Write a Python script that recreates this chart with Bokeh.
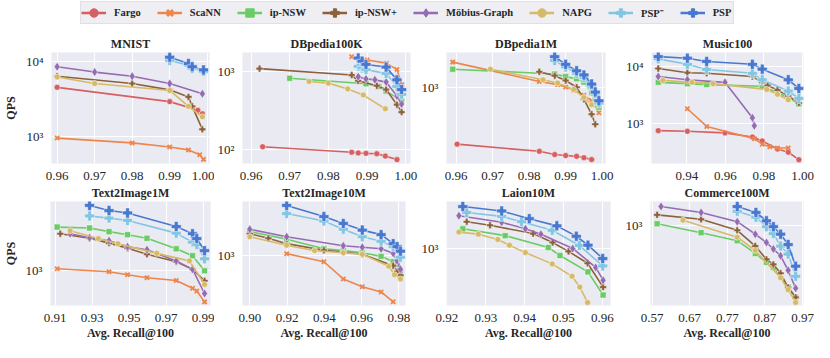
from bokeh.plotting import figure
from bokeh.layouts import column, row
from bokeh.models import FixedTicker, Range1d, Legend, LegendItem, PrintfTickFormatter
from bokeh.embed import file_html
from bokeh.resources import INLINE

# ---------------- data ----------------
METHODS = ["Fargo", "ScaNN", "ip-NSW", "ip-NSW+", "Möbius-Graph", "NAPG", "PSP⁻", "PSP"]
COLORS = ["#d65f5f", "#ee854a", "#6acc64", "#8c613c", "#956cb4", "#d5bb67", "#82c6e2", "#4878d0"]
MARKERS = ["circle", "x", "square", "plus", "diamond", "circle", "plus", "plus"]

TITLES = ["MNIST", "DBpedia100K", "DBpedia1M", "Music100",
          "Text2Image1M", "Text2Image10M", "Laion10M", "Commerce100M"]

X_TICKS = [
    [0.96, 0.97, 0.98, 0.99, 1.00],
    [0.96, 0.97, 0.98, 0.99, 1.00],
    [0.96, 0.97, 0.98, 0.99, 1.00],
    [0.92, 0.94, 0.96, 0.98, 1.00],
    [0.91, 0.93, 0.95, 0.97, 0.99],
    [0.90, 0.92, 0.94, 0.96, 0.98],
    [0.92, 0.93, 0.94, 0.95, 0.96],
    [0.57, 0.67, 0.77, 0.87, 0.97],
]
Y_TICKS = [[1000, 10000], [100, 1000], [1000], [1000, 10000], [1000], [1000], [1000], [1000]]
Y_TICK_LABELS = {100: "10²", 1000: "10³", 10000: "10⁴"}

MNIST = {
    "Fargo": ([0.96, 0.99, 0.9975, 0.9987], [4570, 2940, 2250, 2020]),
    "ScaNN": ([0.96, 0.98, 0.99, 0.995, 0.998, 0.999], [953, 822, 724, 662, 571, 494]),
    "ip-NSW+": ([0.96, 0.98, 0.99, 0.995, 0.996, 0.9987], [6440, 5140, 4230, 3400, 2540, 1250]),
    "Möbius-Graph": ([0.96, 0.97, 0.98, 0.99, 0.9987], [8630, 7320, 6440, 5140, 3750]),
    "NAPG": ([0.96, 0.97, 0.99, 0.995, 0.9987], [6300, 5140, 4150, 2540, 1840]),
    "PSP⁻": ([0.99, 0.995, 0.996, 0.999], [10500, 9050, 8200, 7450]),
    "PSP": ([0.99, 0.995, 0.996, 0.999], [11580, 9520, 8630, 7830]),
}
DBPEDIA100K = {
    "Fargo": ([0.963, 0.986, 0.9877, 0.9897, 0.9925, 0.9947, 0.9977], [107, 91, 89, 88, 87, 81, 73]),
    "ScaNN": ([0.986, 0.99, 0.995, 0.9977, 0.999], [1570, 1426, 1296, 1070, 680]),
    "ip-NSW": ([0.97, 0.9897, 0.993, 0.9949, 0.9989], [826, 701, 650, 562, 422]),
    "ip-NSW+": ([0.9622, 0.986, 0.9877, 0.9925, 0.9949, 0.9977, 0.9989], [1101, 908, 765, 662, 590, 376, 301]),
    "Möbius-Graph": ([0.9877, 0.9897, 0.992, 0.9949, 0.9977, 0.9989], [866, 810, 787, 736, 487, 383]),
    "NAPG": ([0.975, 0.98, 0.985, 0.989, 0.9947], [750, 714, 601, 501, 332]),
    "PSP⁻": ([0.9877, 0.9887, 0.9897, 0.9949, 0.9977, 0.9989], [1177, 1122, 1069, 953, 649, 511]),
    "PSP": ([0.9877, 0.9887, 0.9897, 0.9949, 0.9977, 0.9989], [1510, 1373, 1247, 1155, 787, 590]),
}
DBPEDIA1M = {
    "Fargo": ([0.9603, 0.9828, 0.987, 0.99, 0.993, 0.995, 0.9971], [187, 151, 137, 133, 130, 125, 118]),
    "ScaNN": ([0.9591, 0.9828, 0.9878, 0.99, 0.9922, 0.995, 0.9971, 0.9991], [2154, 1211, 1101, 1029, 935, 802, 681, 478]),
    "ip-NSW": ([0.9591, 0.987, 0.99, 0.993, 0.995, 0.9971, 0.9981, 0.9991], [1745, 1511, 1399, 1309, 1189, 866, 714, 562]),
    "ip-NSW+": ([0.9828, 0.987, 0.99, 0.993, 0.995, 0.9971, 0.9981], [1616, 1439, 1247, 1019, 714, 455, 338]),
    "NAPG": ([0.9694, 0.9838, 0.9878, 0.9922, 0.995, 0.9971], [1745, 1271, 1155, 953, 750, 607]),
    "PSP⁻": ([0.987, 0.99, 0.993, 0.995, 0.9971, 0.9981, 0.9991], [2260, 1866, 1540, 1359, 1049, 826, 637]),
    "PSP": ([0.987, 0.99, 0.993, 0.995, 0.9971, 0.9981, 0.9991], [2535, 2015, 1663, 1468, 1122, 883, 681]),
}
MUSIC100 = {
    "Fargo": ([0.9252, 0.9403, 0.9598, 0.974, 0.9791, 0.987, 0.9926, 0.9981], [739, 719, 674, 568, 485, 349, 306, 226]),
    "ScaNN": ([0.9403, 0.9503, 0.9751, 0.9791, 0.983, 0.987, 0.9926], [1808, 877, 532, 425, 383, 363, 363]),
    "ip-NSW": ([0.9252, 0.9403, 0.9503, 0.9791, 0.987, 0.9926, 0.9981], [5320, 5040, 4850, 4540, 3490, 2870, 2200]),
    "ip-NSW+": ([0.9252, 0.9403, 0.9503, 0.974, 0.9791, 0.9819, 0.987, 0.9926, 0.9981], [9360, 7890, 7690, 6740, 5320, 4660, 3880, 3060, 2290]),
    "Möbius-Graph": ([0.9252, 0.9403, 0.9598, 0.974, 0.975], [6740, 5910, 5320, 1250, 900]),
    "NAPG": ([0.9276, 0.9427, 0.9537, 0.9815, 0.987, 0.9926], [5760, 5320, 5040, 3980, 3270, 2610]),
    "PSP⁻": ([0.9252, 0.9403, 0.9503, 0.974, 0.9791, 0.9926, 0.9981], [13890, 11110, 9000, 7690, 5910, 3730, 2750]),
    "PSP": ([0.9252, 0.9403, 0.9503, 0.974, 0.9791, 0.9926, 0.9981], [15230, 14270, 12500, 11110, 9120, 5910, 4140]),
}
TEXT2IMAGE1M = {
    "ScaNN": ([0.9111, 0.9391, 0.9491, 0.9596, 0.9754, 0.9842, 0.9865, 0.9907], [1041, 983, 927, 876, 832, 716, 680, 553]),
    "ip-NSW": ([0.9111, 0.9286, 0.9391, 0.9491, 0.9596, 0.9754, 0.9842, 0.9907], [2305, 2265, 2113, 1995, 1862, 1522, 1334, 1000]),
    "ip-NSW+": ([0.9128, 0.9286, 0.9391, 0.9491, 0.9596, 0.9754, 0.9842, 0.9907], [2031, 1862, 1698, 1540, 1372, 1189, 1029, 827]),
    "Möbius-Graph": ([0.9181, 0.9286, 0.9391, 0.9491, 0.9596, 0.9754, 0.9842, 0.9907], [2031, 1884, 1778, 1585, 1496, 1209, 1029, 649]),
    "NAPG": ([0.9181, 0.9333, 0.9439, 0.9649, 0.9825, 0.9907], [2150, 1851, 1679, 1396, 1209, 772]),
    "PSP⁻": ([0.9286, 0.9391, 0.9491, 0.9754, 0.9842, 0.9865, 0.9907], [2851, 2738, 2615, 2054, 1728, 1650, 1259]),
    "PSP": ([0.9286, 0.9391, 0.9491, 0.9754, 0.9842, 0.9865, 0.9907], [3487, 3162, 3020, 2331, 2031, 1851, 1471]),
}
TEXT2IMAGE10M = {
    "ScaNN": ([0.9198, 0.9398, 0.9502, 0.9604, 0.9705, 0.977], [1029, 881, 635, 547, 495, 410]),
    "ip-NSW": ([0.90, 0.9198, 0.9398, 0.9502, 0.9604, 0.9705, 0.977, 0.9791, 0.9809], [1567, 1357, 1128, 1090, 1047, 977, 881, 832, 720]),
    "ip-NSW+": ([0.90, 0.91, 0.9198, 0.9398, 0.9502, 0.9604, 0.977, 0.9791, 0.9809], [1505, 1380, 1245, 1096, 1059, 1017, 818, 729, 680]),
    "Möbius-Graph": ([0.90, 0.9198, 0.9502, 0.9604, 0.9705, 0.977, 0.9791, 0.9809], [1641, 1421, 1195, 1161, 1128, 1035, 897, 763]),
    "NAPG": ([0.90, 0.9198, 0.9348, 0.9502, 0.9604, 0.9746, 0.9777, 0.9809], [1421, 1209, 1090, 1047, 1017, 808, 688, 635]),
    "PSP⁻": ([0.9198, 0.9398, 0.9502, 0.9604, 0.9705, 0.977, 0.9809], [2213, 1917, 1641, 1421, 1303, 1175, 961]),
    "PSP": ([0.9198, 0.9398, 0.9502, 0.9604, 0.9705, 0.977, 0.9791, 0.9809], [2585, 2089, 1830, 1613, 1479, 1245, 1175, 1078]),
}
LAION10M = {
    "ip-NSW": ([0.9241, 0.935, 0.9461, 0.9491, 0.9563, 0.9602], [1454, 1274, 1012, 866, 631, 403]),
    "ip-NSW+": ([0.9251, 0.9311, 0.9422, 0.9472, 0.9513, 0.9562, 0.9602], [1669, 1558, 1326, 1115, 939, 746, 470]),
    "Möbius-Graph": ([0.9231, 0.9341, 0.9402, 0.9442, 0.9524, 0.9583, 0.9602], [1873, 1650, 1454, 1311, 994, 688, 537]),
    "NAPG": ([0.9231, 0.9281, 0.9331, 0.9361, 0.9402, 0.9471, 0.9522, 0.9542, 0.9562], [1365, 1311, 1182, 1059, 917, 737, 579, 470, 349]),
    "PSP⁻": ([0.9251, 0.9341, 0.9392, 0.9471, 0.9541, 0.9601], [1995, 1851, 1669, 1413, 1053, 708]),
    "PSP": ([0.9241, 0.9341, 0.9412, 0.9483, 0.9533, 0.9563, 0.9601], [2239, 2054, 1768, 1540, 1259, 1059, 818]),
}
COMMERCE100M = {
    "ip-NSW": ([0.5836, 0.7004, 0.7964, 0.8444, 0.874, 0.8924, 0.9316, 0.9516], [1029, 866, 741, 579, 487, 442, 302, 248]),
    "ip-NSW+": ([0.5836, 0.7004, 0.7964, 0.8444, 0.874, 0.8924, 0.9116, 0.9316, 0.9516], [1223, 1122, 907, 668, 516, 468, 394, 299, 247]),
    "Möbius-Graph": ([0.594, 0.7004, 0.7964, 0.8444, 0.874, 0.8924, 0.9116, 0.9316, 0.9516], [1438, 1281, 1072, 841, 716, 631, 553, 417, 295]),
    "NAPG": ([0.6524, 0.7964, 0.8444, 0.9116, 0.9316, 0.9516], [1103, 794, 613, 361, 287, 224]),
    "PSP⁻": ([0.7964, 0.846, 0.874, 0.8924, 0.9116, 0.9316, 0.9516], [1311, 1168, 972, 851, 668, 572, 372]),
    "PSP": ([0.7964, 0.846, 0.874, 0.8924, 0.9116, 0.9316, 0.9516], [1438, 1281, 1090, 972, 841, 688, 452]),
}
DATASETS = [MNIST, DBPEDIA100K, DBPEDIA1M, MUSIC100, TEXT2IMAGE1M, TEXT2IMAGE10M, LAION10M, COMMERCE100M]

# ---------------- layout / style (not data) ----------------
X_RANGES = [(0.9585, 1.0006), (0.9578, 1.0012), (0.9574, 1.0009), (0.9217, 1.0005),
            (0.9075, 0.9939), (0.8961, 0.9836), (0.9199, 0.9621), (0.566, 0.9724)]
Y_RANGES = [(435, 13400), (65, 1780), (105, 2870), (193, 18000),
            (516, 3758), (382, 2786), (329, 2469), (211, 1585)]
WIDTHS = [214, 204, 204, 192]
BORDERS_ROW1 = [(46, 5), (20, 8), (21, 17), (22, 11)]
BORDERS_ROW2 = [(46, 4), (28, 13), (20, 12), (20, 11)]
SIZES = {"circle": 6, "x": 6, "square": 6, "plus": 7, "diamond": 9}
FONT = "Liberation Serif"
TXT = "#262626"


def make_panel(i):
    r = i // 4
    c = i % 4
    bl, br = (BORDERS_ROW1 if r == 0 else BORDERS_ROW2)[c]
    h = 156 if r == 0 else 160
    p = figure(width=WIDTHS[c], height=h, y_axis_type="log",
               x_range=Range1d(*X_RANGES[i]), y_range=Range1d(*Y_RANGES[i]),
               output_backend="svg", toolbar_location=None,
               min_border_left=bl, min_border_right=br,
               min_border_top=26 if r == 0 else 19,
               min_border_bottom=17 if r == 0 else 31,
               title=TITLES[i])
    p.background_fill_color = "#EAEAF2"
    p.border_fill_color = "white"
    p.outline_line_color = None
    p.title.text_font = FONT
    p.title.text_font_style = "bold"
    p.title.text_font_size = "12px"
    p.title.text_color = TXT
    p.title.align = "center"
    p.title.standoff = 3
    p.xaxis.ticker = FixedTicker(ticks=X_TICKS[i], minor_ticks=[])
    p.xaxis.formatter = PrintfTickFormatter(format="%.2f")
    p.yaxis.ticker = FixedTicker(ticks=Y_TICKS[i], minor_ticks=[])
    p.yaxis.major_label_overrides = {t: Y_TICK_LABELS[t] for t in Y_TICKS[i]}
    for ax in (p.xaxis[0], p.yaxis[0]):
        ax.axis_line_color = None
        ax.major_tick_line_color = None
        ax.minor_tick_line_color = None
        ax.major_label_text_font = FONT
        ax.major_label_text_font_size = "13px"
        ax.major_label_text_color = TXT
        ax.major_label_standoff = 2
        ax.axis_label_text_font = FONT
        ax.axis_label_text_font_style = "bold"
        ax.axis_label_text_font_size = "12px"
        ax.axis_label_text_color = TXT
        ax.axis_label_standoff = 1
    if c == 0:
        p.yaxis.axis_label = "QPS"
        p.yaxis.axis_label_standoff = 5
    if r == 1:
        p.xaxis.axis_label = "Avg. Recall@100"
    p.grid.grid_line_color = "white"
    p.grid.grid_line_width = 1
    p.grid.minor_grid_line_color = None

    data = DATASETS[i]
    for m, col, mk in zip(METHODS, COLORS, MARKERS):
        if m not in data:
            continue
        xs, ys = data[m]
        p.line(xs, ys, line_color=col, line_width=1.6)
        size = SIZES[mk]
        if m in ("PSP", "PSP⁻"):
            size = 10
        if mk == "x":
            p.scatter(xs, ys, marker="x", size=size, line_color=col, line_width=1.8)
        else:
            p.scatter(xs, ys, marker=mk, size=size, fill_color=col,
                      line_color="white", line_width=0.5)
    return p


panels = [make_panel(i) for i in range(8)]

# ---------------- legend strip ----------------
leg = figure(width=814, height=26, output_backend="svg", toolbar_location=None,
             x_range=(0, 1), y_range=(0, 1), min_border=0)
leg.axis.visible = False
leg.grid.visible = False
leg.outline_line_color = None
items = []
for m, col, mk in zip(METHODS, COLORS, MARKERS):
    # placeholder renderers outside the visible range, only used for legend swatches
    lr = leg.line([-5, -4], [-5, -4], line_color=col, line_width=2.5)
    if mk == "x":
        sr = leg.scatter([-5], [-5], marker="x", size=11, line_color=col, line_width=3)
    else:
        sr = leg.scatter([-5], [-5], marker=mk, size=12, fill_color=col, line_color=col)
    items.append(LegendItem(label=m, renderers=[lr, sr]))
legend = Legend(items=items, orientation="horizontal", location=(80, 2),
                glyph_width=25, glyph_height=21, label_standoff=8, spacing=16,
                padding=0, margin=0,
                label_text_font=FONT, label_text_font_style="bold",
                label_text_font_size="10.5px", label_text_color=TXT,
                background_fill_color="#EEEEF3", background_fill_alpha=1,
                border_line_color="#cfcfd6", border_line_width=1)
leg.add_layout(legend, "center")

layout = column(leg, row(*panels[:4]), row(*panels[4:]))
open("out.html", "w").write(file_html(layout, INLINE))
